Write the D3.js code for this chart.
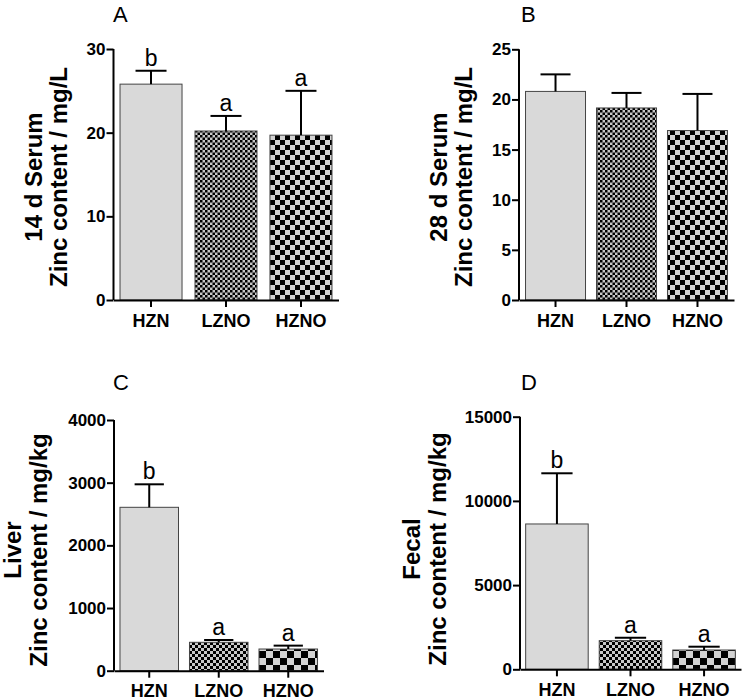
<!DOCTYPE html>
<html><head><meta charset="utf-8">
<script src="https://cdn.jsdelivr.net/npm/d3@7"></script>
<style>body{margin:0;background:#fff}svg{display:block}text{font-family:"Liberation Sans",Arial,sans-serif}</style>
</head><body>
<svg id="c" width="745" height="700"></svg>
<script>
const groups = ["HZN", "LZNO", "HZNO"];
const serum14Mean = [25.8, 20.2, 19.7];
const serum14SD = [1.6, 1.8, 5.3];
const serum14Letters = ["b", "a", "a"];
const serum14Ticks = [0, 10, 20, 30];
const serum28Mean = [20.8, 19.15, 16.9];
const serum28SD = [1.7, 1.5, 3.65];
const serum28Letters = ["", "", ""];
const serum28Ticks = [0, 5, 10, 15, 20, 25];
const liverMean = [2607, 453, 346];
const liverSD = [367, 37, 54];
const liverLetters = ["b", "a", "a"];
const liverTicks = [0, 1000, 2000, 3000, 4000];
const fecalMean = [8630, 1700, 1146];
const fecalSD = [3010, 176, 196];
const fecalLetters = ["b", "a", "a"];
const fecalTicks = [0, 5000, 10000, 15000];

const svg = d3.select("#c");
const defs = svg.append("defs");
function checker(id, c, light) {
  const p = defs.append("pattern").attr("id", id).attr("patternUnits", "userSpaceOnUse")
    .attr("width", 2 * c).attr("height", 2 * c);
  p.append("rect").attr("width", 2 * c).attr("height", 2 * c).attr("fill", light);
  p.append("rect").attr("width", c).attr("height", c).attr("fill", "#000");
  p.append("rect").attr("x", c).attr("y", c).attr("width", c).attr("height", c).attr("fill", "#000");
}
checker("fineAB", 2.5, "#c8c8c8");
checker("coarseAB", 5, "#d2d2d2");
checker("fineCD", 3, "#c8c8c8");
checker("coarseCD", 7, "#d2d2d2");

const panels = [
  {title: "A", tx: 113, ty: 22, x0: 113.5, x1: 338.5, pi: 0.173, po: 0.087, yb: 300, yt: 49, max: 30,
   mean: serum14Mean, sd: serum14SD, letters: serum14Letters, ticks: serum14Ticks,
   l1: "14 d Serum", l2: "Zinc content / mg/L", lx1: 42, lx2: 67, ly: 177, fine: "fineAB", coarse: "coarseAB"},
  {title: "B", tx: 521, ty: 22, x0: 519, x1: 734, pi: 0.155, po: 0.092, yb: 300, yt: 49.3, max: 25,
   mean: serum28Mean, sd: serum28SD, letters: serum28Letters, ticks: serum28Ticks,
   l1: "28 d Serum", l2: "Zinc content / mg/L", lx1: 447, lx2: 472, ly: 177, fine: "fineAB", coarse: "coarseAB"},
  {title: "C", tx: 113, ty: 390, x0: 114, x1: 323.5, pi: 0.158, po: 0.086, yb: 670.7, yt: 420, max: 4000,
   mean: liverMean, sd: liverSD, letters: liverLetters, ticks: liverTicks,
   l1: "Liver", l2: "Zinc content / mg/kg", lx1: 21, lx2: 47, ly: 550, fine: "fineCD", coarse: "coarseCD"},
  {title: "D", tx: 521, ty: 390, x0: 520, x1: 741, pi: 0.15, po: 0.077, yb: 669.3, yt: 416.7, max: 15000,
   mean: fecalMean, sd: fecalSD, letters: fecalLetters, ticks: fecalTicks,
   l1: "Fecal", l2: "Zinc content / mg/kg", lx1: 420, lx2: 446, ly: 549, fine: "fineCD", coarse: "coarseCD"}
];

panels.forEach(P => {
  const g = svg.append("g");
  const x = d3.scaleBand().domain(groups).range([P.x0, P.x1]).paddingInner(P.pi).paddingOuter(P.po);
  const y = d3.scaleLinear().domain([0, P.max]).range([P.yb, P.yt]);
  const fills = ["#d9d9d9", `url(#${P.fine})`, `url(#${P.coarse})`];
  const data = groups.map((k, i) => ({k, m: P.mean[i], s: P.sd[i], l: P.letters[i], f: fills[i]}));

  g.selectAll("rect.bar").data(data).join("rect").attr("class", "bar")
    .attr("x", d => x(d.k)).attr("width", x.bandwidth())
    .attr("y", d => y(d.m)).attr("height", d => y(0) - y(d.m))
    .attr("fill", d => d.f).attr("stroke", "#444").attr("stroke-width", 1);

  const cx = d => x(d.k) + x.bandwidth() / 2;
  g.selectAll("line.eb").data(data).join("line").attr("class", "eb")
    .attr("x1", cx).attr("x2", cx).attr("y1", d => y(d.m)).attr("y2", d => y(d.m + d.s))
    .attr("stroke", "#000").attr("stroke-width", 2);
  g.selectAll("line.cap").data(data).join("line").attr("class", "cap")
    .attr("x1", d => cx(d) - x.bandwidth() / 4).attr("x2", d => cx(d) + x.bandwidth() / 4)
    .attr("y1", d => y(d.m + d.s)).attr("y2", d => y(d.m + d.s))
    .attr("stroke", "#000").attr("stroke-width", 2);
  g.selectAll("text.sig").data(data).join("text").attr("class", "sig")
    .attr("x", cx).attr("y", d => y(d.m + d.s) - 5).attr("text-anchor", "middle")
    .attr("font-size", 23).text(d => d.l);

  const ya = g.append("g").attr("transform", `translate(${P.x0},0)`)
    .call(d3.axisLeft(y).tickValues(P.ticks).tickFormat(d3.format("d")).tickSize(7).tickPadding(1));
  const xa = g.append("g").attr("transform", `translate(0,${P.yb})`)
    .call(d3.axisBottom(x).tickSize(7).tickPadding(7).tickSizeOuter(0));
  [ya, xa].forEach(a => {
    a.select(".domain").attr("stroke", "#000").attr("stroke-width", 2);
    a.selectAll(".tick line").attr("stroke", "#000").attr("stroke-width", 2);
    a.selectAll("text").attr("font-weight", "bold").attr("fill", "#000")
      .attr("font-family", '"Liberation Sans",Arial,sans-serif');
  });
  ya.selectAll("text").attr("font-size", 17);
  xa.selectAll("text").attr("font-size", 18);
  ya.select(".domain").attr("d", `M0,${P.yb}V${P.yt}`);

  g.append("text").attr("x", P.tx).attr("y", P.ty).attr("font-size", 22).text(P.title);
  [[P.l1, P.lx1], [P.l2, P.lx2]].forEach(([t, lx]) => {
    g.append("text").attr("transform", `translate(${lx},${P.ly}) rotate(-90)`)
      .attr("text-anchor", "middle").attr("font-size", 24).attr("font-weight", "bold").text(t);
  });
});
</script>
</body></html>
